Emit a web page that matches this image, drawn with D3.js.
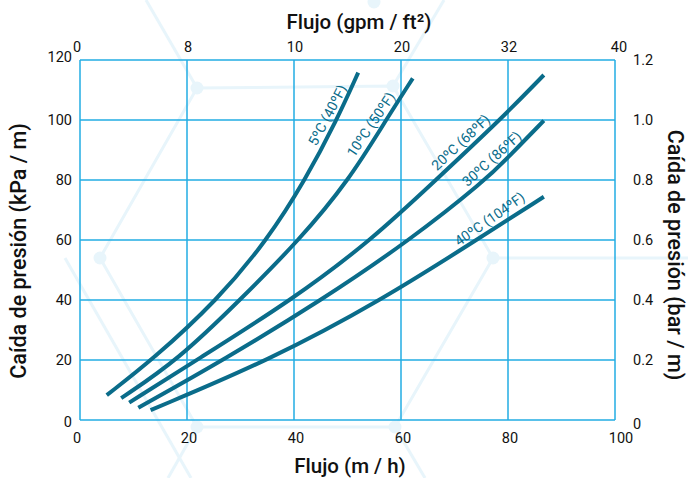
<!DOCTYPE html>
<html>
<head>
<meta charset="utf-8">
<script src="https://cdn.jsdelivr.net/npm/d3@7"></script>
<style>
  body { margin: 0; background: #fff; }
  svg { display: block; font-family: Roboto, "Liberation Sans", sans-serif; }
</style>
</head>
<body>
<script>
// flow in m/h (bottom axis) vs pressure drop in kPa/m
var flow5 = [5.0, 13.5, 25.7, 35.0, 42.1, 48.0, 52.0];
var drop5 = [8.3, 20, 40, 60, 80, 100, 115.8];
var flow10 = [7.7, 18.3, 29.9, 41.0, 50.3, 57.2, 62.2];
var drop10 = [7.3, 20, 40, 60, 80, 100, 113.9];
var flow20 = [9.2, 21.8, 39.6, 54.5, 66.5, 78.5, 86.7];
var drop20 = [5.8, 20, 40, 60, 80, 100, 115];
var flow30 = [10.9, 26.8, 45.2, 61.7, 75.8, 80, 86.7];
var drop30 = [4.1, 20, 40, 60, 80, 87.5, 99.8];
var flow40 = [13.2, 35.5, 56.4, 74.1, 86.7];
var drop40 = [3.3, 20, 40, 60, 74.4];

var seriesNames = ["5ºC (40ºF)", "10ºC (50ºF)", "20ºC (68ºF)", "30ºC (86ºF)", "40ºC (104ºF)"];

var bottomTicks = [0, 20, 40, 60, 80, 100];
var topTickLabels = ["0", "8", "10", "20", "32", "40"];
var leftTicks = [0, 20, 40, 60, 80, 100, 120];
var rightTickLabels = ["0", "0.2", "0.4", "0.6", "0.8", "1.0", "1.2"];

var W = 688, H = 478;
var margin = {top: 60, right: 73, bottom: 58, left: 80};
var grid = "#22ace3", ink = "#0a6c8a", deco = "#e8f5fb";

var svg = d3.select("body").append("svg").attr("width", W).attr("height", H);

var x = d3.scaleLinear().domain([0, 100]).range([margin.left, W - margin.right]);
var y = d3.scaleLinear().domain([0, 120]).range([H - margin.bottom, margin.top]);

// faint hexagon decoration in the background
var hex = [[197, 88], [393, 86], [493, 258], [395, 427], [197, 427], [100, 258]];
var dg = svg.append("g");
dg.append("polygon").attr("points", hex.join(" "))
  .attr("fill", "none").attr("stroke", deco).attr("stroke-width", 3);
var spokes = [[[197, 88], [146, 0]], [[393, 86], [444, 0]], [[493, 258], [688, 258]],
              [[395, 427], [425, 478]], [[197, 427], [168, 478]], [[65, 258], [191, 478]]];
spokes.forEach(function(s) {
  dg.append("line").attr("x1", s[0][0]).attr("y1", s[0][1]).attr("x2", s[1][0]).attr("y2", s[1][1])
    .attr("stroke", deco).attr("stroke-width", 3);
});
dg.selectAll("circle").data(hex.concat([[374, 2]])).enter().append("circle")
  .attr("cx", d => d[0]).attr("cy", d => d[1]).attr("r", 6.5).attr("fill", deco);

// grid
var g = svg.append("g");
g.selectAll(".vx").data(bottomTicks).enter().append("line")
  .attr("x1", d => x(d)).attr("x2", d => x(d)).attr("y1", y(0)).attr("y2", y(120))
  .attr("stroke", grid).attr("stroke-width", 1.5);
g.selectAll(".hy").data(leftTicks).enter().append("line")
  .attr("y1", d => y(d)).attr("y2", d => y(d)).attr("x1", x(0)).attr("x2", x(100))
  .attr("stroke", grid).attr("stroke-width", 1.5);

// tick labels
var tk = svg.append("g").attr("font-size", 14.5).attr("fill", "#111");
tk.selectAll(".b").data(bottomTicks).enter().append("text")
  .attr("x", d => x(d) + (d == 0 ? -3 : d == 100 ? 6 : 2)).attr("y", y(0) + 23)
  .attr("text-anchor", "middle").text(d => d);
tk.selectAll(".t").data(topTickLabels).enter().append("text")
  .attr("x", (d, i) => x(bottomTicks[i]) + (i == 0 ? -3 : i == 5 ? 4 : 1)).attr("y", y(120) - 8)
  .attr("text-anchor", "middle").text(d => d);
tk.selectAll(".l").data(leftTicks).enter().append("text")
  .attr("x", x(0) - 8).attr("y", d => y(d) + (d == 120 ? 2 : 5) + (d == 0 ? 2 : 0))
  .attr("text-anchor", "end").text(d => d);
tk.selectAll(".r").data(rightTickLabels).enter().append("text")
  .attr("x", x(100) + 18).attr("y", (d, i) => y(leftTicks[i]) + 5 + (i == 0 ? 4 : 0))
  .attr("text-anchor", "start").text(d => d);

// axis titles
var tt = svg.append("g").attr("font-weight", 500).attr("fill", "#111");
tt.append("text").attr("x", 359).attr("y", 29).attr("font-size", 20.5)
  .attr("text-anchor", "middle").text("Flujo (gpm / ft²)");
tt.append("text").attr("x", 350).attr("y", 473).attr("font-size", 20.5)
  .attr("text-anchor", "middle").text("Flujo (m / h)");
tt.append("text").attr("transform", "translate(26,251) rotate(-90)").attr("font-size", 21.5)
  .attr("text-anchor", "middle").text("Caída de presión (kPa / m)");
tt.append("text").attr("transform", "translate(668,255) rotate(90)").attr("font-size", 21.5)
  .attr("text-anchor", "middle").text("Caída de presión (bar / m)");

// curves (basis spline to smooth out reading noise)
var flows = [flow5, flow10, flow20, flow30, flow40];
var drops = [drop5, drop10, drop20, drop30, drop40];
var series = flows.map((f, i) => f.map((v, j) => [v, drops[i][j]]));

var line = d3.line().x(d => x(d[0])).y(d => y(d[1])).curve(d3.curveBasis);
svg.append("g").selectAll("path").data(series).enter().append("path")
  .attr("d", line).attr("fill", "none").attr("stroke", ink).attr("stroke-width", 4);

// labels along the curves: flow value to anchor at, and text angle
var labelAt = [48.0, 56.0, 72.5, 78.3, 77.7];
var labelAngle = [-62, -56, -43, -42, -35];
series.forEach(function(s, i) {
  var fx = labelAt[i];
  var k = d3.bisector(d => d[0]).left(s, fx);
  var a = s[k - 1], b = s[k];
  var fy = a[1] + (b[1] - a[1]) * (fx - a[0]) / (b[0] - a[0]);
  var ang = labelAngle[i] * Math.PI / 180;
  var px = x(fx) + 10.5 * Math.sin(ang), py = y(fy) - 10.5 * Math.cos(ang);
  svg.append("text").attr("transform", "translate(" + px + "," + py + ") rotate(" + labelAngle[i] + ")")
    .attr("text-anchor", "middle").attr("dy", "0.35em")
    .attr("font-size", 14).attr("fill", ink).text(seriesNames[i]);
});
</script>
</body>
</html>
